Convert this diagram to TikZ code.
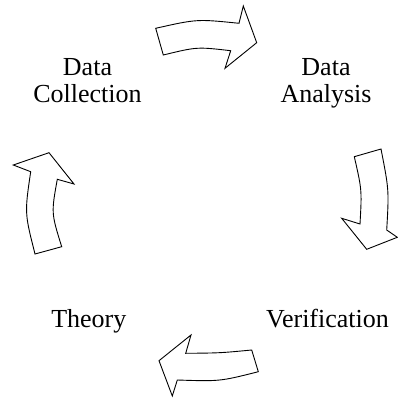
\documentclass[tikz,border=0pt]{standalone}
\usepackage{fontspec}
\setmainfont{Liberation Serif}
\begin{document}
\begin{tikzpicture}[x=1pt,y=-1pt,
  lbl/.style={align=center,inner sep=0pt,font=\fontsize{26}{27}\selectfont},
  blockarrow/.style={draw=black,line width=0.9pt,fill=white,line join=miter}]
\useasboundingbox (0,0) rectangle (398,398);
\node[lbl] (dc) at (87.5,81) {Data\\Collection};
\node[lbl] (da) at (326,83.5) {Data\\Analysis};
\node[lbl,anchor=base] (th) at (88.8,327.3) {Theory};
\node[lbl,anchor=base] (ve) at (327.5,327.3) {Verification};
% top arrow
\draw[blockarrow] (155.7,28.3) .. controls (197,19) .. (239,23.3) -- (243.3,6) -- (256.7,42.7) -- (225,68.3) -- (230.7,50.7) .. controls (197,46.8) .. (163.3,55) -- cycle;
% right arrow
\draw[blockarrow] (354.3,156.7) -- (381,149) .. controls (389,190) .. (386.7,230) -- (397.3,237.3) -- (366.7,249.3) -- (341.7,218.3) -- (360,224) .. controls (361.9,190) .. cycle;
% bottom arrow
\draw[blockarrow] (251.7,350) .. controls (220,353) .. (185.7,353.3) -- (191,335) -- (159,360.7) -- (172.3,396) -- (177.3,380) .. controls (220,381.4) .. (258.3,371.7) -- cycle;
% left arrow
\draw[blockarrow] (35,254) -- (61.7,246.7) .. controls (51.2,213) .. (57.3,179.3) -- (74,184) -- (49,152.7) -- (13.3,165) -- (30.7,171.7) .. controls (24.6,213) .. cycle;
\end{tikzpicture}
\end{document}
